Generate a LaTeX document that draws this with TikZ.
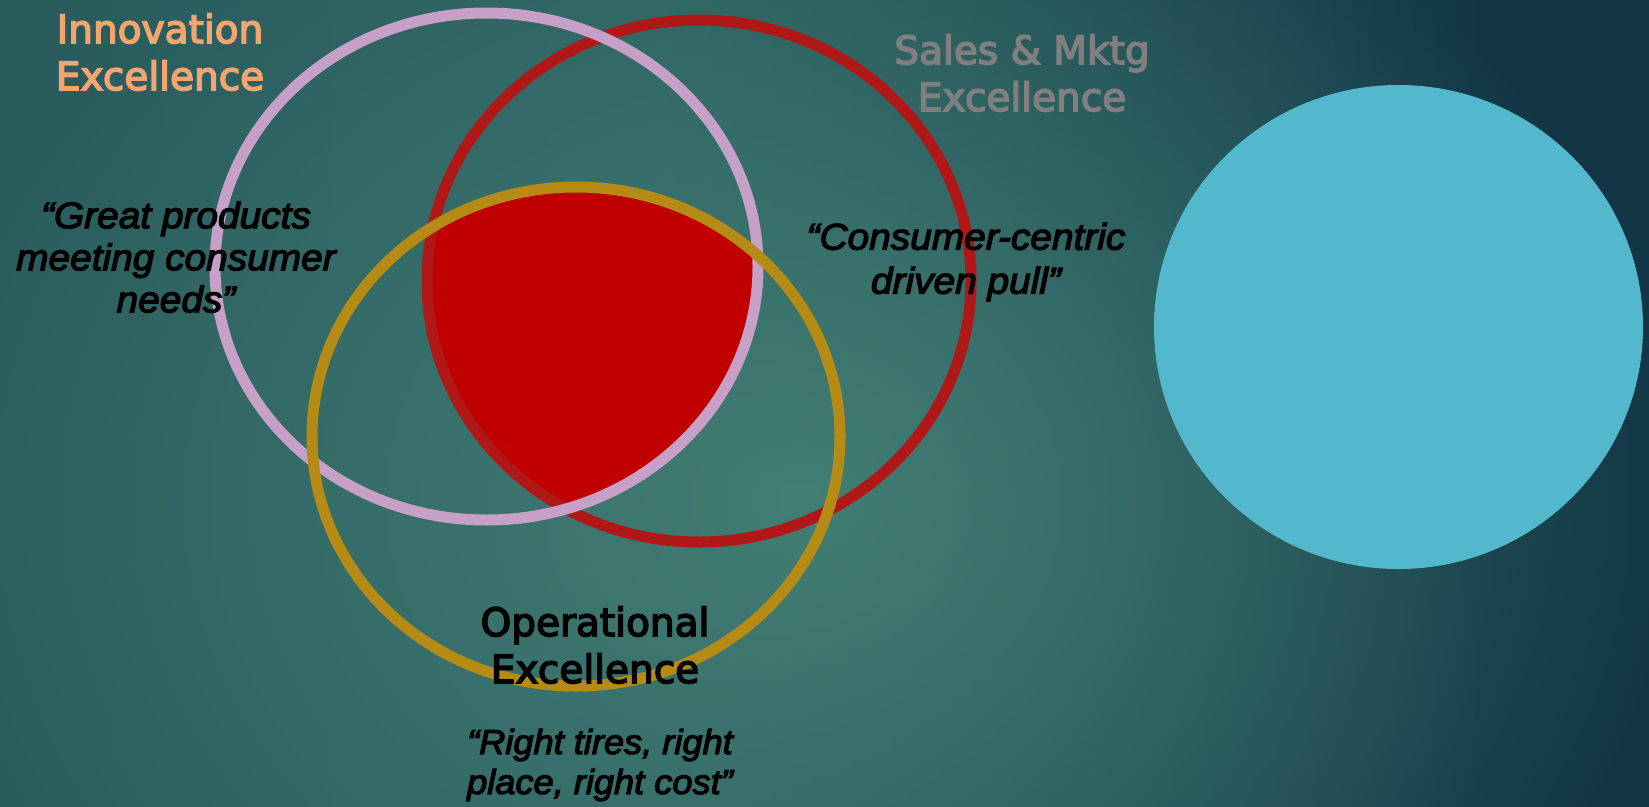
\documentclass[tikz,border=0pt]{standalone}
\usepackage{fontspec}
\usetikzlibrary{fadings}
\newfontfamily\lblfont[FakeBold=4]{DejaVu Sans}
\newfontfamily\quotefont[FakeBold=3.5, FakeStretch=1.05]{Liberation Sans Italic}
\definecolor{bgL}{HTML}{2A5C5E}
\definecolor{bgM}{HTML}{2B5F60}
\definecolor{bgR}{HTML}{123646}
\definecolor{glowc}{HTML}{427E74}
\definecolor{ringPink}{HTML}{C6A0C6}
\definecolor{ringRed}{HTML}{B01818}
\definecolor{ringGold}{HTML}{B68B15}
\definecolor{coreRed}{HTML}{C00000}
\definecolor{cyanDisc}{HTML}{53B8CB}
\definecolor{orangeTxt}{HTML}{F4A46E}
\definecolor{grayTxt}{HTML}{7F7F7F}
\pgfdeclarehorizontalshading{bgshade}{100bp}{color(0bp)=(bgL); color(25bp)=(bgL); color(45bp)=(bgM); color(70bp)=(bgR); color(100bp)=(bgR)}
\tikzfading[name=glowfade, inner color=transparent!0, outer color=transparent!100]
\begin{document}
\begin{tikzpicture}[x=1pt,y=1pt,
  ring/.style={line width=11pt},
  title/.style={font=\lblfont\fontsize{39}{47}\selectfont, align=center, inner sep=0pt},
  quote/.style 2 args={font=\quotefont\fontsize{#1}{#2}\selectfont, align=center, inner sep=0pt, text=black}]
\useasboundingbox (0,0) rectangle (1649,-806);
\shade[shading=bgshade] (0,0) rectangle (1649,-806);
\begin{scope}
  \clip (0,0) rectangle (1649,-806);
  \fill[glowc, path fading=glowfade] (800,-500) ellipse [x radius=880, y radius=720];
\end{scope}
% core intersection
\begin{scope}
  \clip (486.5,-266.5) ellipse [x radius=271.5, y radius=253.5];
  \clip (699,-281) ellipse [x radius=272, y radius=261];
  \clip (576,-436.5) ellipse [x radius=264, y radius=249.5];
  \fill[coreRed] (0,0) rectangle (1649,-806);
\end{scope}
% rings
\draw[ring, ringRed] (699,-281) ellipse [x radius=272, y radius=261];
\draw[ring, ringPink] (486.5,-266.5) ellipse [x radius=271.5, y radius=253.5];
\draw[ring, ringGold] (576,-436.5) ellipse [x radius=264, y radius=249.5];
% cyan disc
\fill[cyanDisc] (1398.5,-327) ellipse [x radius=244.5, y radius=242];
% labels
\node[title, text=orangeTxt] (innov) at (160,-52) {Innovation\\Excellence};
\node[title, text=grayTxt] (sales) at (1022,-73) {Sales \& Mktg\\Excellence};
\node[title, text=black] (oper) at (595,-645) {Operational\\Excellence};
\node[quote={37}{42}] (qgreat) at (176,-257) {“Great products\\meeting consumer\\needs”};
\node[quote={37}{44}] (qcons) at (966,-262) {“Consumer-centric\\driven pull”};
\node[quote={34.5}{40}] (qright) at (600,-765) {“Right tires, right\\place, right cost”};
\end{tikzpicture}
\end{document}
